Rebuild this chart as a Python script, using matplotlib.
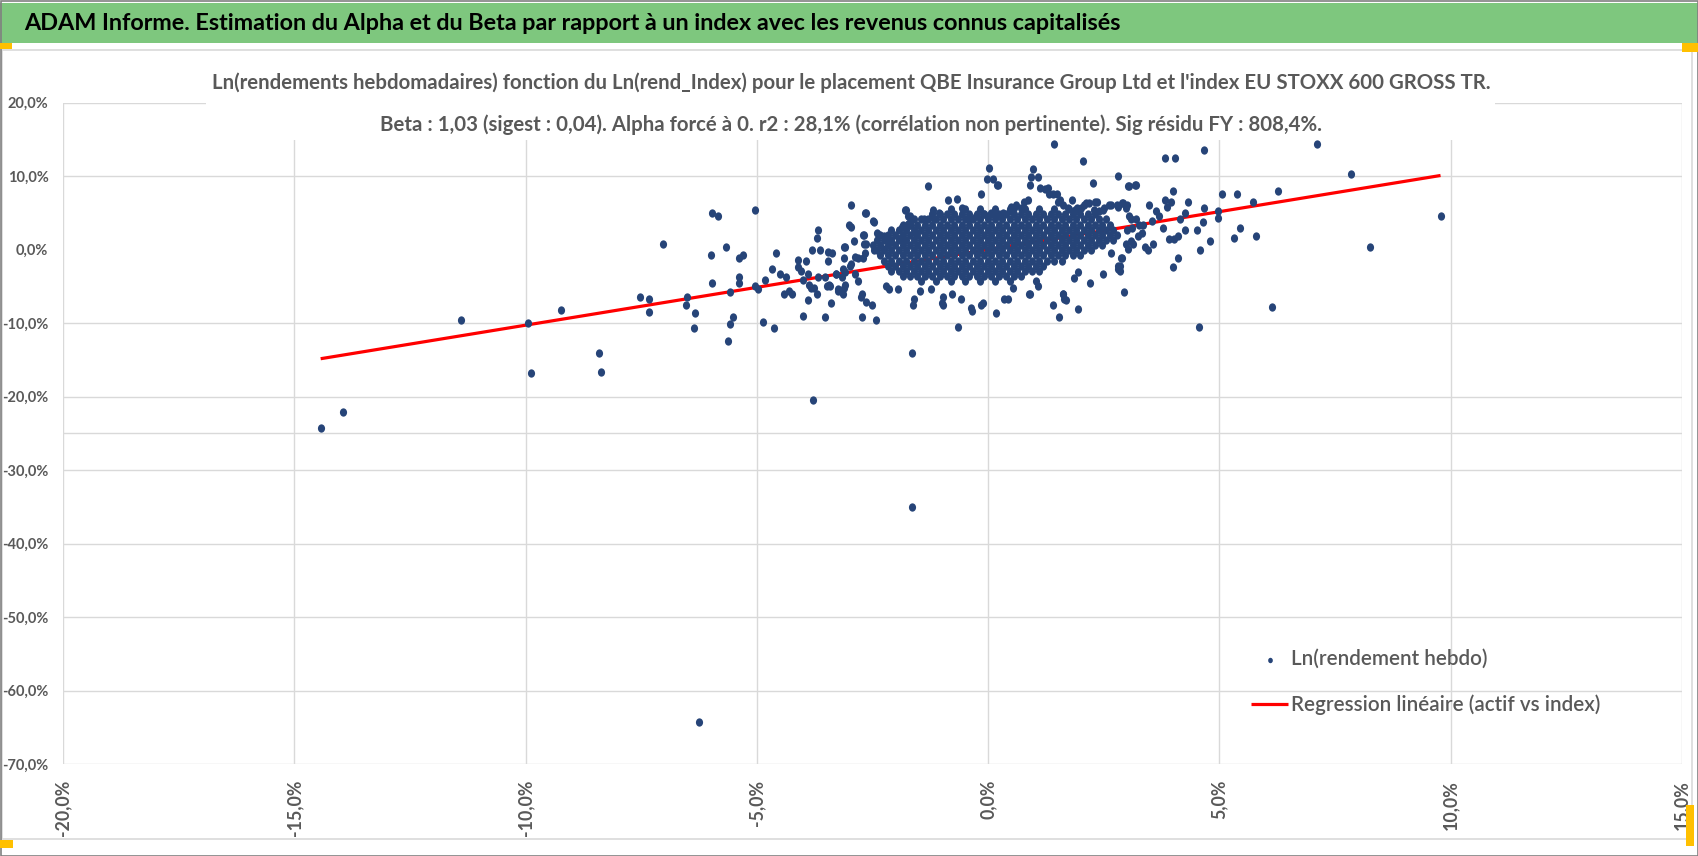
import numpy as np
import matplotlib.pyplot as plt
from matplotlib.patches import Rectangle
from matplotlib.path import Path
from matplotlib.transforms import Affine2D
from matplotlib.ticker import FuncFormatter

# ---- data (weekly log returns, in %) ----
banner_title = ("ADAM Informe. Estimation du Alpha et du Beta par rapport à un index "
                "avec les revenus connus capitalisés")
title_line1 = ("Ln(rendements hebdomadaires) fonction du Ln(rend_Index) pour le placement "
               "QBE Insurance Group Ltd et l'index EU STOXX 600 GROSS TR.")
title_line2 = ("Beta : 1,03 (sigest : 0,04). Alpha forcé à 0. r2 : 28,1% "
               "(corrélation non pertinente). Sig résidu FY : 808,4%.")
label_points = "Ln(rendement hebdo)"
label_line = "Regression linéaire (actif vs index)"

x_ticks = [-20, -15, -10, -5, 0, 5, 10, 15]
y_ticks = [20, 10, 0, -10, -20, -30, -40, -50, -60, -70]
y_grid = [20, 10, -10, -20, -25, -30, -40, -50, -60, -70]

# regression line end points (beta 1.03, alpha 0)
reg_x = [-14.43, 9.78]
reg_y = [-14.86, 10.07]

# isolated points
far_pts = [(-14.43, -24.3), (-13.95, -22.1), (-11.4, -9.6), (-9.94, -10.0), (-9.89, -16.8),
           (-9.24, -8.2), (-8.42, -14.1), (-8.38, -16.7), (-7.52, -6.4), (-7.34, -6.8),
           (-7.34, -8.5), (-7.02, 0.8), (-6.5, -6.4), (-6.54, -7.6), (-6.33, -8.7),
           (-6.35, -10.7), (-6.26, -64.3), (-5.96, 4.9), (-5.85, 4.6), (-5.05, 5.4),
           (-6.0, -0.7), (-5.66, 0.3), (-5.38, -1.2), (-5.29, -0.7), (-5.96, -4.5),
           (-5.38, -3.8), (-5.38, -4.5), (-5.57, -5.8), (-5.51, -9.2), (-5.57, -10.2),
           (-5.62, -12.5), (-4.86, -9.8), (-4.62, -10.7), (-3.78, -20.5), (-1.64, -14.1),
           (-1.64, -35.0), (-0.65, -10.6), (4.56, -10.6), (6.13, -7.8), (7.1, 14.3),
           (7.84, 10.3), (8.25, 0.4), (9.78, 4.6), (1.43, 14.3), (4.67, 13.6), (2.05, 12.1),
           (3.82, 12.4), (4.03, 12.4), (6.26, 7.9), (5.72, 6.4), (5.05, 7.6), (5.38, 7.5),
           (5.79, 1.8), (5.31, 1.6), (5.44, 2.9)]

# points around the dense cloud
halo_pts = [(0.97, 10.9), (1.07, 9.8), (0.02, 11.1), (-0.02, 9.6), (0.1, 9.6), (0.19, 8.8),
            (-1.3, 8.7), (-0.15, 7.6), (2.27, 9.0), (2.8, 10.0), (3.05, 8.7), (3.17, 8.8),
            (4.97, 4.3), (4.97, 5.2), (4.67, 5.6), (4.64, 3.7), (4.8, 1.1), (4.58, -0.1),
            (4.52, 2.7), (4.25, 2.7), (4.32, 6.5), (4.25, 4.9), (4.15, 4.2), (4.0, 7.9),
            (3.95, 6.4), (3.82, 6.8), (3.87, 5.8), (3.63, 5.2), (3.69, 4.6), (3.48, 6.0),
            (3.78, 2.9), (4.1, 1.8), (4.02, 1.4), (3.91, 1.4), (4.1, -1.2), (4.0, -2.4),
            (3.56, 0.8), (3.46, 0.0), (3.4, 0.4), (3.33, 2.3), (2.94, -5.8), (2.89, -1.1),
            (2.8, -2.2), (2.85, -2.9), (2.66, -0.5), (2.48, -3.4), (2.2, -4.5), (1.94, -8.1),
            (1.53, -9.2), (1.4, -7.6), (1.68, -6.9), (1.62, -6.1), (0.17, -8.7), (-0.35, -8.3),
            (-0.11, -7.3), (-1.62, -7.5), (-1.6, -6.8), (-0.97, -7.5), (-0.97, -6.5),
            (-0.58, -6.8), (0.35, -6.7), (0.43, -6.7), (0.91, -6.1), (-1.79, 5.4), (-0.86, 6.7),
            (-0.67, 6.9), (-1.19, 5.4), (-1.06, 5.0), (-0.56, 5.6), (-1.38, 4.2), (0.48, 5.2),
            (0.56, 5.7), (0.86, 6.7), (0.78, 6.4), (1.12, 8.3), (1.23, 8.2), (1.4, 7.6),
            (1.49, 7.5), (1.56, 6.7), (1.73, 5.7), (1.81, 6.8), (1.88, 5.4), (2.01, 5.6),
            (2.12, 6.3), (2.31, 6.5), (2.4, 5.3), (2.48, 5.4), (2.61, 6.1), (2.79, 6.0),
            (2.9, 6.3), (3.05, 4.5), (3.2, 4.1), (3.12, 2.9), (2.98, 0.7), (3.09, 1.1),
            (3.25, 1.8), (3.35, 3.4), (3.55, 3.9), (0.21, 8.8), (0.93, 9.8), (0.91, 8.8),
            (1.29, 8.4), (1.32, 7.5), (1.51, 6.5), (1.62, 6.1), (1.92, 5.6), (2.07, 6.1),
            (2.18, 6.3), (2.29, 5.4), (2.35, 6.5), (3.02, 8.7), (3.2, 8.8), (2.51, 5.6),
            (2.66, 6.1), (2.81, 5.8), (2.92, 6.3), (3.0, 6.1), (2.98, 5.6), (3.09, 4.2),
            (3.26, 3.4), (3.0, 2.7), (3.13, 0.7), (3.02, 0.1), (2.87, -1.1), (2.85, -2.3),
            (2.81, -2.7), (1.94, -3.0), (1.86, -3.9), (1.62, -6.0), (1.64, -6.8), (0.89, -6.1),
            (1.04, -4.3), (1.07, -5.0), (0.54, -5.3), (-0.15, -7.5), (-0.37, -8.0),
            (-0.78, -6.1), (-0.99, -7.3), (-1.23, -5.4), (-1.47, -5.6), (-1.94, -5.4),
            (-2.14, -5.4), (-2.2, -5.0), (-2.25, 1.8), (-2.16, 1.1), (-1.73, 4.5), (-1.73, 3.5),
            (-1.86, 3.1), (-1.56, 2.2), (-1.17, 4.2), (-0.41, 4.2), (-0.26, 4.5), (-0.09, 4.8),
            (0.06, 4.9), (0.17, 4.5), (0.32, 4.9), (0.5, 5.8), (0.6, 6.1), (0.71, 5.6),
            (-2.96, 6.0), (-2.66, 5.0), (-1.7, 4.5), (-1.7, 3.7), (-2.48, 3.9), (-3.0, 3.4),
            (-2.96, 3.0), (-2.89, 1.2), (-3.67, 2.6), (-3.69, 1.5), (-2.68, 2.0), (-2.1, 1.1),
            (-1.88, 1.5), (-2.46, 0.0), (-2.25, 0.1), (-2.66, -0.5), (-2.7, -1.2), (-2.68, 0.7),
            (-3.11, 0.4), (-3.46, -0.3), (-3.37, -0.5), (-3.46, -1.6), (-3.63, -0.1),
            (-3.8, 0.0), (-3.28, -3.4), (-3.17, -3.7), (-3.09, -3.0), (-3.41, -4.9),
            (-3.48, -4.9), (-3.24, -5.4), (-3.15, -5.8), (-3.11, -5.3), (-2.81, -4.3),
            (-2.72, -6.1), (-2.74, -6.5), (-2.63, -7.1), (-2.51, -7.5), (-2.42, -9.6),
            (-2.72, -9.2), (-3.52, -9.2), (-4.0, -9.0), (-3.39, -7.3), (-3.89, -6.9),
            (-3.71, -6.1), (-3.76, -5.3), (-3.87, -4.8), (-4.0, -4.2), (-3.89, -3.4),
            (-4.04, -2.9), (-4.3, -5.7), (-4.41, -6.0), (-4.25, -6.0), (-4.1, -1.4),
            (-4.1, -2.4), (-3.93, -1.6), (-4.51, -3.3), (-4.67, -2.6), (-4.58, -0.5),
            (-4.82, -4.1), (-5.05, -4.9), (-4.97, -5.4), (-4.38, -3.8), (-3.84, -5.2),
            (-3.67, -3.7), (-3.52, -3.7), (-3.43, -4.8), (-3.24, -5.7), (-3.13, -6.0),
            (-3.09, -4.8), (-3.28, -3.3), (-3.13, -2.6), (-2.96, -2.0), (-2.87, -3.3),
            (-3.09, 0.4), (-3.11, -1.2), (-2.98, -2.3), (-2.63, 4.9), (-2.46, 3.8),
            (-2.7, 2.0), (-2.63, 0.7), (-2.81, -1.2), (-2.87, -1.0), (-2.4, 2.2), (-1.92, 1.4),
            (-1.77, 5.4), (-1.7, 3.4)]

# dense core of the cloud, one list of x per level of y
core_y = [5.5, 4.8, 4.1, 3.4, 2.7, 2.0, 1.3, 0.6, -0.1, -0.8, -1.5, -2.2, -2.9, -3.6, -4.3]
core_x = [
    [-0.81, -0.49, -0.17, 0.15, 0.47, 0.79, 1.11, 1.43, 1.75],
    [-1.21, -1.05, -0.89, -0.73, -0.57, -0.41, -0.25, -0.09, 0.07, 0.23, 0.39, 0.55, 0.71, 0.87,
     1.03, 1.19, 1.35, 1.51, 1.67, 1.83, 1.99, 2.15, 2.31],
    [-1.61, -1.45, -1.29, -1.13, -0.97, -0.81, -0.65, -0.49, -0.33, -0.17, -0.01, 0.15, 0.31,
     0.47, 0.63, 0.79, 0.95, 1.11, 1.27, 1.43, 1.59, 1.75, 1.91, 2.07, 2.23, 2.39, 2.55],
    [-1.85, -1.69, -1.53, -1.37, -1.21, -1.05, -0.89, -0.73, -0.57, -0.41, -0.25, -0.09, 0.07,
     0.23, 0.39, 0.55, 0.71, 0.87, 1.03, 1.19, 1.35, 1.51, 1.67, 1.83, 1.99, 2.15, 2.31, 2.47,
     2.63],
    [-2.09, -1.93, -1.77, -1.61, -1.45, -1.29, -1.13, -0.97, -0.81, -0.65, -0.49, -0.33, -0.17,
     -0.01, 0.15, 0.31, 0.47, 0.63, 0.79, 0.95, 1.11, 1.27, 1.43, 1.59, 1.75, 1.91, 2.07, 2.23,
     2.39, 2.55, 2.71],
    [-2.33, -2.17, -2.01, -1.85, -1.69, -1.53, -1.37, -1.21, -1.05, -0.89, -0.73, -0.57, -0.41,
     -0.25, -0.09, 0.07, 0.23, 0.39, 0.55, 0.71, 0.87, 1.03, 1.19, 1.35, 1.51, 1.67, 1.83, 1.99,
     2.15, 2.31, 2.47, 2.63, 2.79],
    [-2.41, -2.25, -2.09, -1.93, -1.77, -1.61, -1.45, -1.29, -1.13, -0.97, -0.81, -0.65, -0.49,
     -0.33, -0.17, -0.01, 0.15, 0.31, 0.47, 0.63, 0.79, 0.95, 1.11, 1.27, 1.43, 1.59, 1.75, 1.91,
     2.07, 2.23, 2.39, 2.55, 2.71],
    [-2.49, -2.33, -2.17, -2.01, -1.85, -1.69, -1.53, -1.37, -1.21, -1.05, -0.89, -0.73, -0.57,
     -0.41, -0.25, -0.09, 0.07, 0.23, 0.39, 0.55, 0.71, 0.87, 1.03, 1.19, 1.35, 1.51, 1.67, 1.83,
     1.99, 2.15, 2.31, 2.47],
    [-2.41, -2.25, -2.09, -1.93, -1.77, -1.61, -1.45, -1.29, -1.13, -0.97, -0.81, -0.65, -0.49,
     -0.33, -0.17, -0.01, 0.15, 0.31, 0.47, 0.63, 0.79, 0.95, 1.11, 1.27, 1.43, 1.59, 1.75, 1.91,
     2.07, 2.23],
    [-2.33, -2.17, -2.01, -1.85, -1.69, -1.53, -1.37, -1.21, -1.05, -0.89, -0.73, -0.57, -0.41,
     -0.25, -0.09, 0.07, 0.23, 0.39, 0.55, 0.71, 0.87, 1.03, 1.19, 1.35, 1.51, 1.67, 1.83, 1.99],
    [-2.25, -2.09, -1.93, -1.77, -1.61, -1.45, -1.29, -1.13, -0.97, -0.81, -0.65, -0.49, -0.33,
     -0.17, -0.01, 0.15, 0.31, 0.47, 0.63, 0.79, 0.95, 1.11, 1.27, 1.43, 1.59],
    [-2.17, -2.01, -1.85, -1.69, -1.53, -1.37, -1.21, -1.05, -0.89, -0.73, -0.57, -0.41, -0.25,
     -0.09, 0.07, 0.23, 0.39, 0.55, 0.71, 0.87, 1.03, 1.19],
    [-2.09, -1.93, -1.77, -1.61, -1.45, -1.29, -1.13, -0.97, -0.81, -0.65, -0.49, -0.33, -0.17,
     -0.01, 0.15, 0.31, 0.47, 0.63, 0.79, 0.95, 1.11],
    [-1.85, -1.69, -1.53, -1.37, -1.21, -1.05, -0.89, -0.73, -0.57, -0.41, -0.25, -0.09, 0.07,
     0.23, 0.39, 0.55, 0.71],
    [-1.45, -1.13, -0.81, -0.49, -0.17, 0.15, 0.47],
]

pts_x = [p[0] for p in far_pts + halo_pts]
pts_y = [p[1] for p in far_pts + halo_pts]
for yv, row in zip(core_y, core_x):
    pts_x += row
    pts_y += [yv] * len(row)
pts_x = np.array(pts_x)
pts_y = np.array(pts_y)

# ---- styling ----
FONT = ['Lato', 'DejaVu Sans']
GREY = '#595959'
BLUE = '#264478'
GRID = '#d9d9d9'
W, H = 1698, 856

fig = plt.figure(figsize=(W / 100, H / 100), dpi=100)
renderer = fig.canvas.get_renderer()


def fx(px):
    return px / W


def fy(py):
    return 1 - py / H


def rect_px(x0, y0, x1, y1, **kw):
    r = Rectangle((fx(x0), fy(y1)), (x1 - x0) / W, (y1 - y0) / H,
                  transform=fig.transFigure, **kw)
    fig.patches.append(r)
    return r


def fitted_size(s, width_px, weight='bold'):
    t = fig.text(0, 0, s, fontsize=20, family=FONT, weight=weight)
    w = t.get_window_extent(renderer).width
    t.remove()
    return 20 * width_px / w


# frame, banner and little yellow marks
rect_px(0, 3, W, 43, facecolor='#7ec77e', edgecolor='none', zorder=0)
rect_px(2, 50, 1692, 839, facecolor='none', edgecolor=GRID, lw=1.2, zorder=0)
rect_px(0.5, 0.5, W - 0.5, H - 0.5, facecolor='none', edgecolor='#808080', lw=1.2, zorder=0)
for x0, y0, x1, y1 in [(0, 43, 12, 49), (1682, 43, W, 52), (0, 840, 13, 848), (1686, 805, 1694, 846)]:
    rect_px(x0, y0, x1, y1, facecolor='#ffc000', edgecolor='none', zorder=0)

fig.text(fx(24), fy(23), banner_title, ha='left', va='center', color='black', family=FONT,
         weight='bold', fontsize=fitted_size(banner_title, 1099))

# ---- axes ----
ax = fig.add_axes([fx(63), fy(764), (1682 - 63) / W, (764 - 102.5) / H])
ax.set_xlim(-20, 15)
ax.set_ylim(-70, 20)
for s in ax.spines.values():
    s.set_visible(False)
for v in x_ticks:
    ax.axvline(v, color=GRID, lw=1.0, zorder=0)
for v in y_grid:
    ax.axhline(v, color=GRID, lw=1.0, zorder=0)

pct = FuncFormatter(lambda v, p: f"{v:.1f}%".replace('.', ','))
ax.set_xticks(x_ticks)
ax.set_yticks(y_ticks)
ax.xaxis.set_major_formatter(pct)
ax.yaxis.set_major_formatter(pct)
ax.tick_params(length=0, colors=GREY)
ax.tick_params(axis='x', labelrotation=90, pad=11.5)
ax.tick_params(axis='y', pad=10.5)
xs = fitted_size("10,0%", 50)
ys = fitted_size("10,0%", 41)
for t in ax.get_xticklabels():
    t.set_family(FONT)
    t.set_weight('bold')
    t.set_fontsize(xs)
for t in ax.get_yticklabels():
    t.set_family(FONT)
    t.set_weight('bold')
    t.set_fontsize(ys)

dot = Path.unit_circle().transformed(Affine2D().scale(0.86, 1.0))
ln, = ax.plot(reg_x, reg_y, color='#ff0000', lw=2.3, zorder=2, solid_capstyle='butt')
sc = ax.scatter(pts_x, pts_y, s=36, marker=dot, color=BLUE, linewidths=0, zorder=3)

# title in a white box over the grid
rect_px(206, 62, 1495, 140, facecolor='white', edgecolor='none', zorder=2)
ts = fitted_size(title_line1, 1280)
fig.text(fx(851), fy(83), title_line1, ha='center', va='center', color=GREY, family=FONT,
         weight='bold', fontsize=ts, zorder=3)
fig.text(fx(851), fy(125), title_line2, ha='center', va='center', color=GREY, family=FONT,
         weight='bold', fontsize=ts, zorder=3)

# legend
lfs = fitted_size(label_line, 309, weight='semibold')
lpx = lfs * 100 / 72
leg = ax.legend(handles=[sc, ln], labels=[label_points, label_line], loc='center left',
                bbox_to_anchor=(fx(1251), fy(682)), bbox_transform=fig.transFigure,
                frameon=False, borderpad=0, borderaxespad=0, handlelength=37 / lpx,
                handletextpad=3 / lpx, labelspacing=(50 - 1.2 * lpx) / lpx,
                markerscale=0.65, prop={'family': FONT, 'size': lfs, 'weight': 'semibold'})
for t in leg.get_texts():
    t.set_color(GREY)

fig.savefig('out.png', dpi=100, facecolor='white')
